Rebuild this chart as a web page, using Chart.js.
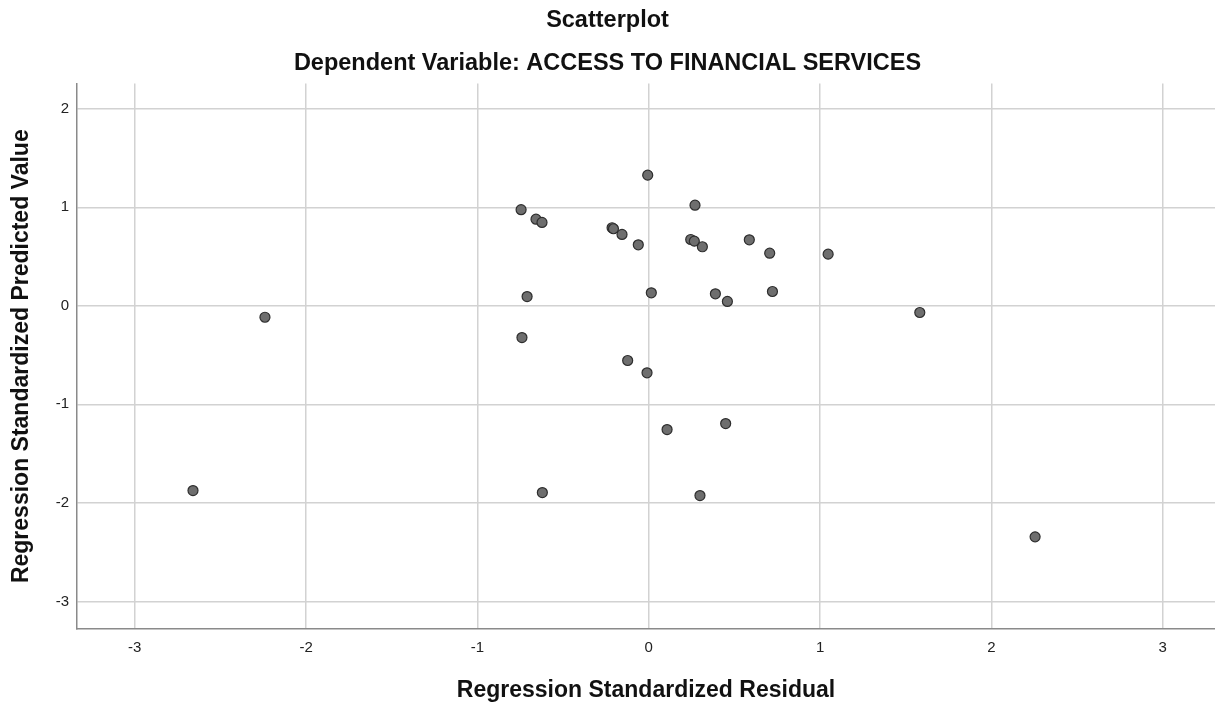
<!DOCTYPE html>
<html>
<head>
<meta charset="utf-8">
<script src="https://cdn.jsdelivr.net/npm/chart.js@4.4.1/dist/chart.umd.min.js"></script>
<style>
    html, body { margin: 0; padding: 0; background: #fff; }
    #chart-wrap { width: 1215px; height: 704px; }
</style>
</head>
<body>
<div id="chart-wrap"><canvas id="scatter-canvas" width="1215" height="704"></canvas></div>
<script>
// 残差 (x軸)
const residuals = [-2.66, -2.24, -0.745, -0.658, -0.623, -0.214, -0.206, -0.156, -0.061, -0.006,
    0.270, 0.245, 0.266, 0.313, 0.587, 0.706, 1.047, -0.710, 0.015, 0.389,
    0.459, 0.722, 1.582, -0.740, -0.123, -0.010, 0.107, 0.449, -0.621, 0.299, 2.255];
// 予測値 (y軸)
const predicted = [-1.875, -0.116, 0.975, 0.879, 0.846, 0.792, 0.782, 0.724, 0.619, 1.326,
    1.021, 0.673, 0.656, 0.599, 0.670, 0.534, 0.524, 0.094, 0.132, 0.122,
    0.044, 0.145, -0.068, -0.322, -0.555, -0.680, -1.256, -1.195, -1.895, -1.926, -2.345];
// 目盛り
const xTicks = [-3, -2, -1, 0, 1, 2, 3];
const yTicks = [-3, -2, -1, 0, 1, 2];

const chartTitle = 'Scatterplot';
const chartSubtitle = 'Dependent Variable: ACCESS TO FINANCIAL SERVICES';
const xTitle = 'Regression Standardized Residual';
const yTitle = 'Regression Standardized Predicted Value';

const FONT = "'Liberation Sans', Arial, sans-serif";

let points = [];
for (let i = 0; i < residuals.length; i++) {
    points.push({x: residuals[i], y: predicted[i]});
}

let ctx = document.getElementById('scatter-canvas').getContext('2d');
let chart = new Chart(ctx, {
    type: 'scatter',
    data: {
        datasets: [{
            label: 'residuals',
            data: points,
            pointRadius: 5,
            pointHoverRadius: 5,
            backgroundColor: '#6e6e6e',
            borderColor: '#2e2e2e',
            borderWidth: 1.2,
        }]
    },
    options: {
        responsive: false,
        animation: false,
        // 点の半径分の自動余白は不要 (右端まで描く)
        layout: { padding: 0, autoPadding: false },
        plugins: {
            legend: { display: false },
            tooltip: { enabled: false },
            title: {
                display: true,
                text: chartTitle,
                color: '#111',
                font: { family: FONT, size: 23.5, weight: 'bold' },
                padding: { top: 6, bottom: 15 },
            },
            subtitle: {
                display: true,
                text: chartSubtitle,
                color: '#111',
                font: { family: FONT, size: 23.5, weight: 'bold' },
                padding: { top: 0, bottom: 6 },
            },
        },
        scales: {
            x: {
                type: 'linear',
                min: -3.337,
                max: 3.305,
                afterBuildTicks: function(scale) {
                    scale.ticks = xTicks.map(v => ({value: v}));
                },
                afterFit: function(scale) {
                    scale.height = 75;
                },
                grid: { color: '#d2d2d2', lineWidth: 1.5, drawTicks: false },
                border: { display: true, color: '#8a8a8a', width: 1.5 },
                ticks: {
                    color: '#222',
                    padding: 10,
                    font: { family: FONT, size: 15 },
                },
                title: {
                    display: true,
                    text: xTitle,
                    color: '#111',
                    font: { family: FONT, size: 23, weight: 'bold' },
                    padding: { top: 0, bottom: 0 },
                },
            },
            y: {
                type: 'linear',
                min: -3.28,
                max: 2.257,
                afterBuildTicks: function(scale) {
                    scale.ticks = yTicks.map(v => ({value: v}));
                },
                afterFit: function(scale) {
                    scale.width = 77;
                },
                grid: { color: '#d2d2d2', lineWidth: 1.5, drawTicks: false },
                border: { display: true, color: '#8a8a8a', width: 1.5 },
                ticks: {
                    color: '#222',
                    padding: 8,
                    font: { family: FONT, size: 15 },
                },
                title: {
                    display: true,
                    text: yTitle,
                    color: '#111',
                    font: { family: FONT, size: 23, weight: 'bold' },
                    padding: { top: 8, bottom: 0 },
                },
            },
        },
    },
});
</script>
</body>
</html>
